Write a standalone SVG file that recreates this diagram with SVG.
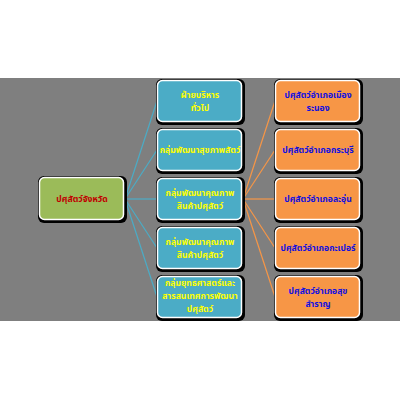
<svg xmlns="http://www.w3.org/2000/svg" width="400" height="400" viewBox="0 0 400 400">
<style>
.sh{fill:#000}
.root{fill:#9BBB59;stroke:#fff;stroke-width:1.5}
.mid{fill:#4BACC6;stroke:#fff;stroke-width:1.5}
.rt{fill:#F79646;stroke:#fff;stroke-width:1.5}
text{font-family:"Noto Sans Thai","Noto Sans","DejaVu Sans",sans-serif;font-weight:bold;font-size:8.6px;text-anchor:middle}
.tr{fill:#C00000}
.ty{fill:#FFFF00}
.tb{fill:#1010E0}
.cb{stroke:#4BACC6;stroke-width:1.2;fill:none}
.co{stroke:#F79646;stroke-width:1.2;fill:none}
</style>
<rect x="0" y="0" width="400" height="400" fill="#fff"/>
<rect x="0" y="78" width="400" height="243" fill="#7F7F7F"/>
<g id="connectors">
<line class="cb" x1="125" y1="199" x2="157" y2="101"/>
<line class="cb" x1="125" y1="199" x2="157" y2="150"/>
<line class="cb" x1="125" y1="199" x2="157" y2="199"/>
<line class="cb" x1="125" y1="199" x2="157" y2="248"/>
<line class="cb" x1="125" y1="199" x2="157" y2="297"/>
<line class="co" x1="243" y1="199" x2="275" y2="101"/>
<line class="co" x1="243" y1="199" x2="275" y2="150"/>
<line class="co" x1="243" y1="199" x2="275" y2="199"/>
<line class="co" x1="243" y1="199" x2="275" y2="248"/>
<line class="co" x1="243" y1="199" x2="275" y2="297"/>
</g>
<g id="root">
<rect class="sh" x="38" y="176" width="89" height="47" rx="6"/>
<rect class="root" x="39.5" y="177.5" width="84" height="42" rx="5"/>
<text class="tr" x="82" y="202">ปศุสัตว์จังหวัด</text>
</g>
<g id="m1">
<rect class="sh" x="156" y="79" width="89" height="46" rx="6"/>
<rect class="mid" x="157.5" y="80.5" width="84" height="41" rx="5"/>
<text class="ty" x="200" y="98">ฝ่ายบริหาร</text>
<text class="ty" x="200" y="111">ทั่วไป</text>
</g>
<g id="m2">
<rect class="sh" x="156" y="128" width="89" height="46" rx="6"/>
<rect class="mid" x="157.5" y="129.5" width="84" height="41" rx="5"/>
<text class="ty" x="200" y="153">กลุ่มพัฒนาสุขภาพสัตว์</text>
</g>
<g id="m3">
<rect class="sh" x="156" y="177" width="89" height="46" rx="6"/>
<rect class="mid" x="157.5" y="178.5" width="84" height="41" rx="5"/>
<text class="ty" x="200" y="196">กลุ่มพัฒนาคุณภาพ</text>
<text class="ty" x="200" y="209">สินค้าปศุสัตว์</text>
</g>
<g id="m4">
<rect class="sh" x="156" y="226" width="89" height="46" rx="6"/>
<rect class="mid" x="157.5" y="227.5" width="84" height="41" rx="5"/>
<text class="ty" x="200" y="245">กลุ่มพัฒนาคุณภาพ</text>
<text class="ty" x="200" y="258">สินค้าปศุสัตว์</text>
</g>
<g id="m5">
<rect class="sh" x="156" y="275" width="89" height="46" rx="6"/>
<rect class="mid" x="157.5" y="276.5" width="84" height="41" rx="5"/>
<text class="ty" x="200" y="286">กลุ่มยุทธศาสตร์และ</text>
<text class="ty" x="200" y="299">สารสนเทศการพัฒนา</text>
<text class="ty" x="200" y="312">ปศุสัตว์</text>
</g>
<g id="r1">
<rect class="sh" x="274" y="79" width="89" height="46" rx="6"/>
<rect class="rt" x="275.5" y="80.5" width="84" height="41" rx="5"/>
<text class="tb" x="318" y="98">ปศุสัตว์อำเภอเมือง</text>
<text class="tb" x="318" y="111">ระนอง</text>
</g>
<g id="r2">
<rect class="sh" x="274" y="128" width="89" height="46" rx="6"/>
<rect class="rt" x="275.5" y="129.5" width="84" height="41" rx="5"/>
<text class="tb" x="318" y="153">ปศุสัตว์อำเภอกระบุรี</text>
</g>
<g id="r3">
<rect class="sh" x="274" y="177" width="89" height="46" rx="6"/>
<rect class="rt" x="275.5" y="178.5" width="84" height="41" rx="5"/>
<text class="tb" x="318" y="202">ปศุสัตว์อำเภอละอุ่น</text>
</g>
<g id="r4">
<rect class="sh" x="274" y="226" width="89" height="46" rx="6"/>
<rect class="rt" x="275.5" y="227.5" width="84" height="41" rx="5"/>
<text class="tb" x="318" y="251">ปศุสัตว์อำเภอกะเปอร์</text>
</g>
<g id="r5">
<rect class="sh" x="274" y="275" width="89" height="46" rx="6"/>
<rect class="rt" x="275.5" y="276.5" width="84" height="41" rx="5"/>
<text class="tb" x="318" y="294">ปศุสัตว์อำเภอสุข</text>
<text class="tb" x="318" y="307">สำราญ</text>
</g>
</svg>
